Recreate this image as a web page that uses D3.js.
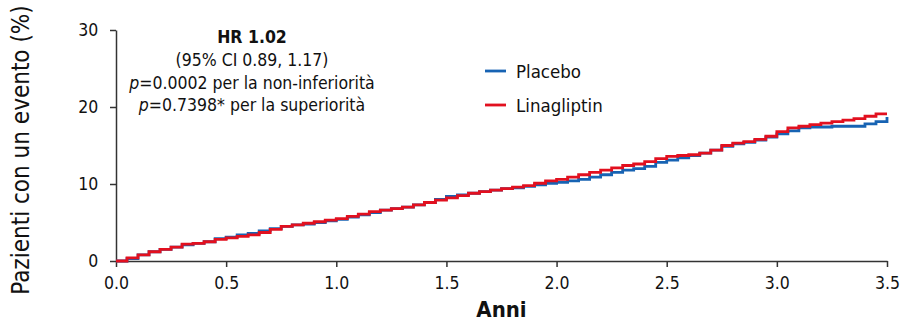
<!DOCTYPE html>
<html lang="it">
<head>
    <meta charset="UTF-8">
    <title>Linagliptin vs Placebo</title>
    <script src="https://cdn.jsdelivr.net/npm/d3@7"></script>
    <style>
        body { margin: 0; background: #fff; }
        svg text { font-family: "Liberation Sans Narrow", "DejaVu Sans Condensed", Arial, sans-serif; fill: #111; }
        .axis path, .axis line { stroke: #333; stroke-width: 1.5px; }
    </style>
</head>
<body>
    <div id="chart"></div>
    <script>
        // Tempi (anni) e incidenza cumulativa (%)
        const years = [0, 0.05, 0.1, 0.15, 0.2, 0.25, 0.3, 0.35, 0.4, 0.45, 0.5, 0.55, 0.6, 0.65, 0.7, 0.75,
            0.8, 0.85, 0.9, 0.95, 1.0, 1.05, 1.1, 1.15, 1.2, 1.25, 1.3, 1.35, 1.4, 1.45, 1.5, 1.55, 1.6,
            1.65, 1.7, 1.75, 1.8, 1.85, 1.9, 1.95, 2.0, 2.05, 2.1, 2.15, 2.2, 2.25, 2.3, 2.35, 2.4, 2.45,
            2.5, 2.55, 2.6, 2.65, 2.7, 2.75, 2.8, 2.85, 2.9, 2.95, 3.0, 3.05, 3.1, 3.15, 3.2, 3.25, 3.3,
            3.35, 3.4, 3.45, 3.5];
        const placebo = [0, 0.3, 0.8, 1.2, 1.5, 1.8, 2.1, 2.3, 2.5, 2.9, 3.1, 3.4, 3.6, 3.9, 4.2, 4.5,
            4.7, 4.8, 5.0, 5.2, 5.4, 5.7, 6.0, 6.3, 6.6, 6.8, 7.0, 7.3, 7.6, 8.0, 8.4, 8.6, 8.8,
            9.0, 9.2, 9.4, 9.5, 9.7, 9.9, 10.1, 10.2, 10.4, 10.6, 10.9, 11.2, 11.5, 11.8, 12.0, 12.3, 12.8,
            13.1, 13.4, 13.7, 14.0, 14.4, 14.9, 15.2, 15.4, 15.7, 16.1, 16.5, 16.9, 17.3, 17.4, 17.4, 17.5, 17.5,
            17.5, 17.8, 18.1, 18.7];
        const linagliptin = [0, 0.4, 0.8, 1.2, 1.5, 1.8, 2.2, 2.3, 2.5, 2.8, 3.0, 3.2, 3.4, 3.7, 4.1, 4.5,
            4.7, 4.9, 5.1, 5.3, 5.5, 5.8, 6.1, 6.4, 6.6, 6.8, 7.0, 7.3, 7.6, 7.9, 8.2, 8.5, 8.8,
            9.0, 9.2, 9.4, 9.6, 9.8, 10.1, 10.4, 10.6, 10.9, 11.2, 11.5, 11.8, 12.1, 12.4, 12.6, 12.9, 13.3,
            13.6, 13.7, 13.8, 14.0, 14.4, 15.0, 15.3, 15.5, 15.8, 16.2, 16.8, 17.3, 17.5, 17.7, 17.9, 18.1, 18.3,
            18.5, 18.8, 19.1, 19.1];
        const xTicks = [0, 0.5, 1.0, 1.5, 2.0, 2.5, 3.0, 3.5];
        const yTicks = [0, 10, 20, 30];
        const seriesNames = ["Placebo", "Linagliptin"];
        const seriesColors = ["#1763b3", "#e2101f"];
        const statLines = ["(95% CI 0.89, 1.17)", "=0.0002 per la non-inferiorità", "=0.7398* per la superiorità"];

        const width = 902, height = 321;
        const margin = { top: 30, right: 15, bottom: 60, left: 116 };

        const svg = d3.select('#chart')
            .append('svg')
            .attr('width', width)
            .attr('height', height);

        const x = d3.scaleLinear().domain([0, 3.5]).range([margin.left, width - margin.right]);
        const y = d3.scaleLinear().domain([0, 30]).range([height - margin.bottom, margin.top]);

        // Assi
        svg.append('g')
            .attr('class', 'axis')
            .attr('transform', `translate(0,${height - margin.bottom})`)
            .call(d3.axisBottom(x).tickValues(xTicks).tickFormat(d3.format('.1f')).tickSize(6).tickSizeOuter(0))
            .call(g => g.selectAll('text').attr('font-size', 17.5).attr('dy', '1.1em'));

        svg.append('g')
            .attr('class', 'axis')
            .attr('transform', `translate(${margin.left},0)`)
            .call(d3.axisLeft(y).tickValues(yTicks).tickSize(6).tickSizeOuter(0))
            .call(g => g.selectAll('text').attr('font-size', 17.5).attr('dx', '-0.5em'));

        // Curve a gradini
        const line = d3.line()
            .x((d, i) => x(years[i]))
            .y(d => y(d))
            .curve(d3.curveStepAfter);

        [placebo, linagliptin].forEach((s, i) => {
            svg.append('path')
                .datum(s)
                .attr('fill', 'none')
                .attr('stroke', seriesColors[i])
                .attr('stroke-width', 2.8)
                .attr('d', line);
        });

        // Titoli assi
        svg.append('text')
            .attr('x', x(1.75))
            .attr('y', 317)
            .attr('text-anchor', 'middle')
            .attr('font-size', 22)
            .attr('font-weight', 'bold')
            .text('Anni');

        svg.append('text')
            .attr('transform', `translate(29,150) rotate(-90)`)
            .attr('text-anchor', 'middle')
            .attr('font-size', 24)
            .text('Pazienti con un evento (%)');

        // Annotazione HR
        const ann = svg.append('g').attr('text-anchor', 'middle').attr('font-size', 17.5);
        ann.append('text').attr('x', 252).attr('y', 43).attr('font-weight', 'bold').text('HR 1.02');
        ann.append('text').attr('x', 252).attr('y', 66).text(statLines[0]);
        [statLines[1], statLines[2]].forEach((t, i) => {
            const tx = ann.append('text').attr('x', 252).attr('y', 89 + i * 22);
            tx.append('tspan').attr('font-style', 'italic').text('p');
            tx.append('tspan').text(t);
        });

        // Legenda
        const legend = svg.append('g').attr('transform', 'translate(485,71)');
        seriesNames.forEach((name, i) => {
            const g = legend.append('g').attr('transform', `translate(0,${i * 34})`);
            g.append('line').attr('x1', 0).attr('x2', 21).attr('stroke', seriesColors[i]).attr('stroke-width', 2.8);
            g.append('text').attr('x', 31).attr('y', 7).attr('font-size', 18.5).text(name);
        });
    </script>
</body>
</html>
